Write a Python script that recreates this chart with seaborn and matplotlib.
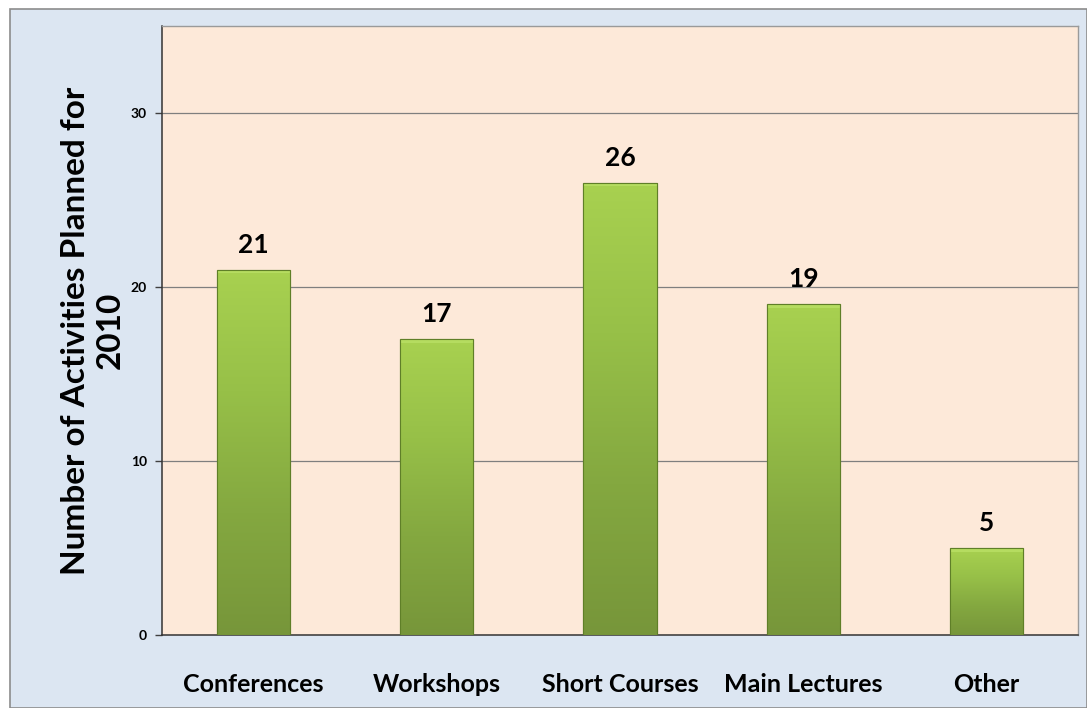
import matplotlib
matplotlib.use("Agg")
import matplotlib.pyplot as plt
import seaborn as sns
import numpy as np
import pandas as pd
from matplotlib.patches import Rectangle
from matplotlib.colors import LinearSegmentedColormap

categories = ["Conferences", "Workshops", "Short Courses", "Main Lectures", "Other"]
values = [21, 17, 26, 19, 5]
y_ticks = [0, 10, 20, 30]
y_label = "Number of Activities Planned for\n2010"

sns.set_theme(style="white")
plt.rcParams['font.family'] = ['Lato', 'DejaVu Sans']
plt.rcParams['text.color'] = 'black'
plt.rcParams['axes.labelcolor'] = 'black'
plt.rcParams['xtick.color'] = 'black'
plt.rcParams['ytick.color'] = 'black'

df = pd.DataFrame({"category": categories, "value": values})

fig = plt.figure(figsize=(10.87, 7.08), dpi=100, facecolor="white")
bg = Rectangle((10/1087, 0), 1 - 10/1087, (708-9)/708, transform=fig.transFigure,
               facecolor="#dce6f2", edgecolor="#8c8c8c", linewidth=1.2, zorder=-10)
fig.patches.append(bg)

ax = fig.add_axes([162/1087, 73/708, (1078-162)/1087, (635-26)/708])
ax.set_facecolor("#fde9d9")

sns.barplot(data=df, x="category", y="value", ax=ax, width=0.4,
            color="#8db143", edgecolor="#5f7f28", linewidth=0.8, saturation=1, zorder=3)

ax.set_ylim(0, 35)
ax.set_xlim(-0.5, len(categories) - 0.5)

# gradient overlay
cmap = LinearSegmentedColormap.from_list("g", ["#a8d150", "#97c048", "#84a840", "#77963a"])
grad = np.linspace(0, 1, 256).reshape(-1, 1)
for p in ax.patches:
    x0, y0 = p.get_x(), p.get_y()
    w, h = p.get_width(), p.get_height()
    im = ax.imshow(grad, cmap=cmap, aspect="auto",
                   extent=(x0, x0 + w, y0, y0 + h), origin="upper", zorder=3.5)
    im.set_clip_path(p)
    ax.add_patch(Rectangle((x0, y0 + h - 0.22), w, 0.22, facecolor="#b5dc60",
                           edgecolor="none", zorder=3.6, clip_path=p))
    ax.add_patch(Rectangle((x0, y0), w, h, facecolor="none", edgecolor="#5f7f28",
                           linewidth=0.8, zorder=3.7))

for i, v in enumerate(values):
    ax.text(i, v + 0.75, str(v), ha="center", va="bottom", fontsize=19,
            fontweight="bold", color="black", zorder=5)

ax.set_yticks(y_ticks)
ax.set_yticklabels([str(t) for t in y_ticks], fontsize=10, fontweight="bold")
for t in y_ticks[1:]:
    ax.axhline(t, color="#7f7f7f", linewidth=0.9, zorder=1)

ax.set_xticks(range(len(categories)))
ax.set_xticklabels(categories, fontsize=18, fontweight="bold")
ax.tick_params(axis="x", which="major", length=0, pad=27)
ax.set_xticks(np.arange(-0.5, len(categories) + 0.5, 1), minor=True)
ax.tick_params(axis="x", which="minor", length=8, width=1, color="#404040", direction="out")
ax.tick_params(axis="y", length=5, width=1, color="#404040", direction="out", left=True, pad=6)

ax.set_xlabel("")
ax.set_ylabel(y_label, fontsize=24, fontweight="bold", labelpad=4, linespacing=1.25)

for side in ["left", "bottom"]:
    ax.spines[side].set_color("#333333")
    ax.spines[side].set_linewidth(1.1)
for side in ["top", "right"]:
    ax.spines[side].set_color("#9a9a9a")
    ax.spines[side].set_linewidth(1.0)

fig.savefig("out.png", dpi=100, facecolor=fig.get_facecolor())
